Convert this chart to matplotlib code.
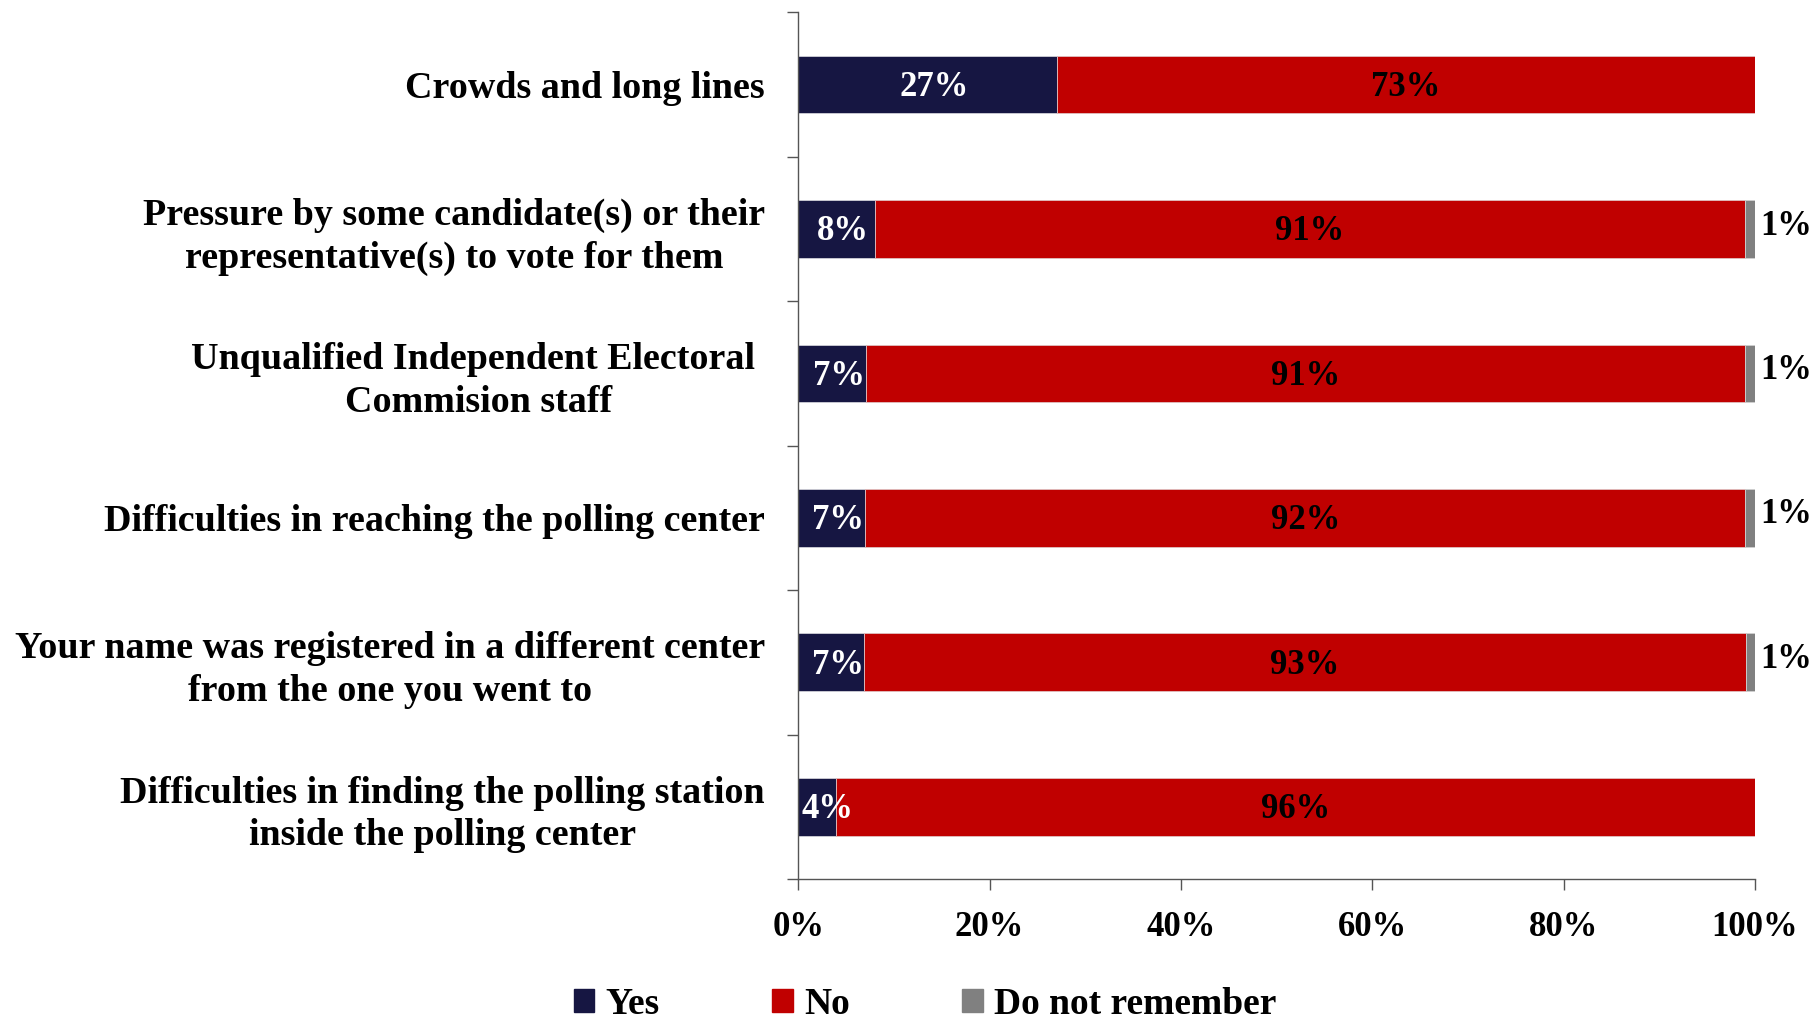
import matplotlib
matplotlib.use("Agg")
import matplotlib.pyplot as plt
from matplotlib.patches import Patch
import numpy as np

categories = [
    "Crowds and long lines",
    "Pressure by some candidate(s) or their\nrepresentative(s) to vote for them",
    "Unqualified Independent Electoral \nCommision staff",
    "Difficulties in reaching the polling center",
    "Your name was registered in a different center\nfrom the one you went to",
    "Difficulties in finding the polling station\ninside the polling center",
]
yes = [27, 8, 7, 7, 7, 4]
no = [73, 91, 91, 92, 93, 96]
dnr = [0, 1, 1, 1, 1, 0]
series_names = ["Yes", "No", "Do not remember"]
colors = ["#161642", "#C00000", "#808080"]
xticks = [0, 20, 40, 60, 80, 100]

FONT = "Liberation Serif"
plt.rcParams["font.family"] = [FONT, "DejaVu Serif"]
plt.rcParams["font.weight"] = "bold"

fig = plt.figure(figsize=(18.14, 10.24), dpi=100)
ax = fig.add_axes([0.44, 0.1416, 0.5275, 0.8464])

y = np.arange(len(categories))
yes_a = np.array(yes, float)
no_a = np.array(no, float)
dnr_a = np.array(dnr, float)
tot = yes_a + no_a + dnr_a
yes_n = yes_a / tot * 100
no_n = no_a / tot * 100
dnr_n = dnr_a / tot * 100

h = 0.4
ax.barh(y, yes_n, height=h, color=colors[0], edgecolor="#d0d0d8", linewidth=0.6)
ax.barh(y, no_n, left=yes_n, height=h, color=colors[1], edgecolor="#e0c0c0", linewidth=0.6)
ax.barh(y, dnr_n, left=yes_n + no_n, height=h, color=colors[2], edgecolor="#d0d0d0", linewidth=0.6)

ax.set_ylim(len(categories) - 0.5, -0.5)
ax.set_xlim(0, 100)

for i in range(len(categories)):
    xc = max(yes_n[i] / 2 + 0.7, 3.1)
    ax.text(xc, y[i] + 0.02, f"{yes[i]}%", color="white", ha="center", va="center",
            fontsize=25, fontweight="bold")
    ax.text(yes_n[i] + no_n[i] / 2, y[i] + 0.02, f"{no[i]}%", color="black", ha="center",
            va="center", fontsize=25, fontweight="bold")
    if dnr[i] > 0:
        ax.text(100.5, y[i] - 0.02, f"{dnr[i]}%", color="black", ha="left", va="center",
                fontsize=25, fontweight="bold", clip_on=False)

ax.set_yticks(y)
ax.set_yticklabels(categories, fontsize=27.4, fontweight="bold", multialignment="center",
                   linespacing=1.28)
ax.tick_params(axis="y", which="major", length=0, pad=24)
ax.set_yticks(np.arange(-0.5, len(categories), 1.0), minor=True)
ax.tick_params(axis="y", which="minor", length=8, width=1, color="#555555", direction="out")

ax.set_xticks(xticks)
ax.set_xticklabels([f"{v}%" for v in xticks], fontsize=25, fontweight="bold")
ax.tick_params(axis="x", length=8, width=1, color="#555555", pad=15, direction="out")

for s in ["top", "right"]:
    ax.spines[s].set_visible(False)
for s in ["left", "bottom"]:
    ax.spines[s].set_color("#555555")
    ax.spines[s].set_linewidth(1)

handles = [Patch(facecolor=c, edgecolor=c) for c in colors]
fig.legend(handles, series_names, loc="center", bbox_to_anchor=(0.51, 0.019), ncol=3,
           frameon=False, prop={"family": FONT, "weight": "bold", "size": 27},
           handlelength=0.55, handleheight=0.55, handletextpad=0.3, columnspacing=3.0,
           borderpad=0.1)

fig.savefig("out.png", dpi=100)
